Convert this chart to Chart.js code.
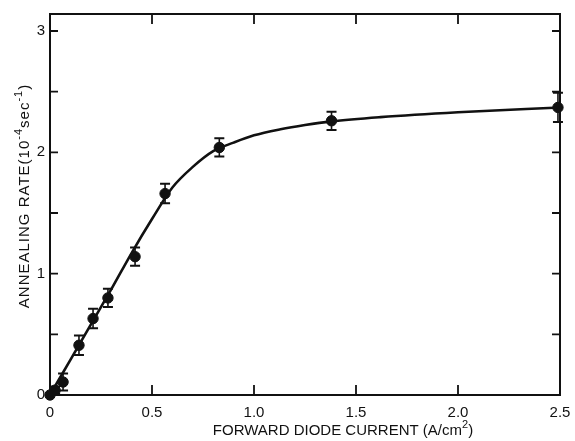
<!DOCTYPE html>
<html>
<head>
<meta charset="utf-8">
<script src="https://cdn.jsdelivr.net/npm/chart.js@4/dist/chart.umd.min.js"></script>
<style>
  html, body { margin: 0; padding: 0; background: #fff; }
  #wrap { width: 575px; height: 441px; position: relative; }
</style>
</head>
<body>
<div id="wrap"><canvas id="c" width="575" height="441"></canvas></div>
<script>
// ---- data ----
const currentA = [0, 0.025, 0.064, 0.142, 0.211, 0.284, 0.417, 0.564, 0.83, 1.38, 2.49];
const annealRate = [0, 0.04, 0.107, 0.41, 0.63, 0.80, 1.14, 1.66, 2.04, 2.26, 2.37];
const rateErr = [0, 0.03, 0.07, 0.08, 0.08, 0.075, 0.075, 0.08, 0.075, 0.075, 0.12];

const curveX = [0, 0.1, 0.2, 0.3, 0.4, 0.5, 0.6, 0.7, 0.8, 0.9, 1.0, 1.13, 1.25, 1.38, 1.62, 2.0, 2.5];
const curveY = [0, 0.29, 0.58, 0.87, 1.17, 1.45, 1.71, 1.88, 2.01, 2.08, 2.14, 2.19, 2.225, 2.255, 2.29, 2.33, 2.37];

const xTickValues = [0, 0.5, 1.0, 1.5, 2.0, 2.5];
const yTickValues = [0, 1, 2, 3];
const yMinorTicks = [0.5, 1, 1.5, 2, 2.5, 3];
const xMinorTicks = [0.5, 1.0, 1.5, 2.0];

const xTitle = [{t: 'FORWARD DIODE CURRENT (A/cm'}, {t: '2', sup: true}, {t: ')'}];
const yTitle = [{t: 'ANNEALING RATE(10'}, {t: '-4', sup: true}, {t: 'sec'}, {t: '-1', sup: true}, {t: ')'}];

const FONT = "'Liberation Sans', Arial, Helvetica, sans-serif";
const INK = '#111';

function drawRich(ctx, segs, cx, cy, size, spacing) {
  const supSize = Math.round(size * 0.72);
  ctx.letterSpacing = (spacing || 0) + 'px';
  let total = 0;
  const widths = segs.map(s => {
    ctx.font = (s.sup ? supSize : size) + 'px ' + FONT;
    const w = ctx.measureText(s.t).width;
    total += w;
    return w;
  });
  let x = cx - total / 2;
  ctx.textBaseline = 'middle';
  ctx.textAlign = 'left';
  segs.forEach((s, i) => {
    ctx.font = (s.sup ? supSize : size) + 'px ' + FONT;
    ctx.fillText(s.t, x, s.sup ? cy - size * 0.42 : cy);
    x += widths[i];
  });
  ctx.letterSpacing = '0px';
}

const framePlugin = {
  id: 'frame',
  beforeDatasetsDraw(chart) {
    const ctx = chart.ctx;
    const xs = chart.scales.x, ys = chart.scales.y;
    const ds = chart.data.datasets[1];
    ctx.save();
    ctx.strokeStyle = INK;
    ds.data.forEach((p, i) => {
      const e = rateErr[i];
      if (!e) return;
      const px = xs.getPixelForValue(p.x);
      const yt = ys.getPixelForValue(p.y + e);
      const yb = ys.getPixelForValue(p.y - e);
      ctx.lineWidth = 1.6;
      ctx.beginPath();
      ctx.moveTo(px, yt); ctx.lineTo(px, yb);
      ctx.stroke();
      ctx.lineWidth = 2;
      ctx.beginPath();
      ctx.moveTo(px - 5, yt); ctx.lineTo(px + 5, yt);
      ctx.moveTo(px - 5, yb); ctx.lineTo(px + 5, yb);
      ctx.stroke();
    });
    ctx.restore();
  },
  afterDraw(chart) {
    const ctx = chart.ctx;
    const a = chart.chartArea;
    const xs = chart.scales.x, ys = chart.scales.y;
    ctx.save();
    ctx.strokeStyle = INK;
    ctx.lineWidth = 2;
    ctx.strokeRect(a.left, a.top, a.right - a.left, a.bottom - a.top);
    ctx.lineWidth = 1.8;
    ctx.beginPath();
    xMinorTicks.forEach(v => {
      const px = xs.getPixelForValue(v);
      ctx.moveTo(px, a.bottom); ctx.lineTo(px, a.bottom - 10);
      ctx.moveTo(px, a.top); ctx.lineTo(px, a.top + 10);
    });
    yMinorTicks.forEach(v => {
      const py = ys.getPixelForValue(v);
      ctx.moveTo(a.left, py); ctx.lineTo(a.left + 8, py);
      ctx.moveTo(a.right, py); ctx.lineTo(a.right - 8, py);
    });
    ctx.stroke();
    ctx.fillStyle = INK;
    drawRich(ctx, xTitle, 343, 431, 15, 0);
    ctx.translate(25, 196);
    ctx.rotate(-Math.PI / 2);
    drawRich(ctx, yTitle, 0, 0, 15, 1);
    ctx.restore();
  }
};

new Chart(document.getElementById('c'), {
  type: 'scatter',
  data: {
    datasets: [
      {
        type: 'line',
        data: curveX.map((x, i) => ({x, y: curveY[i]})),
        borderColor: INK,
        borderWidth: 2.6,
        pointRadius: 0,
        cubicInterpolationMode: 'monotone',
        fill: false,
        clip: false
      },
      {
        data: currentA.map((x, i) => ({x, y: annealRate[i]})),
        backgroundColor: INK,
        borderColor: INK,
        pointRadius: 5.2,
        pointHoverRadius: 5.2,
        clip: false
      }
    ]
  },
  options: {
    responsive: false,
    animation: false,
    events: [],
    layout: { padding: { top: 12, right: 15, left: 0, bottom: 0 } },
    plugins: { legend: { display: false }, tooltip: { enabled: false } },
    scales: {
      x: {
        type: 'linear', min: 0, max: 2.5,
        afterBuildTicks(s) { s.ticks = xTickValues.map(v => ({value: v})); },
        afterFit(s) { s.height = 46; },
        grid: { display: false, tickLength: 9 },
        border: { display: false },
        ticks: {
          padding: 0, color: INK, maxRotation: 0, autoSkip: false,
          font: { family: FONT, size: 15 },
          callback: v => v === 0 ? '0' : Number(v).toFixed(1)
        }
      },
      y: {
        type: 'linear', min: 0, max: 3.14,
        afterBuildTicks(s) { s.ticks = yTickValues.map(v => ({value: v})); },
        afterFit(s) { s.width = 50; },
        grid: { display: false, tickLength: 0 },
        border: { display: false },
        ticks: {
          padding: 5, color: INK,
          font: { family: FONT, size: 15 },
          callback: v => String(v)
        }
      }
    }
  },
  plugins: [framePlugin]
});
</script>
</body>
</html>
